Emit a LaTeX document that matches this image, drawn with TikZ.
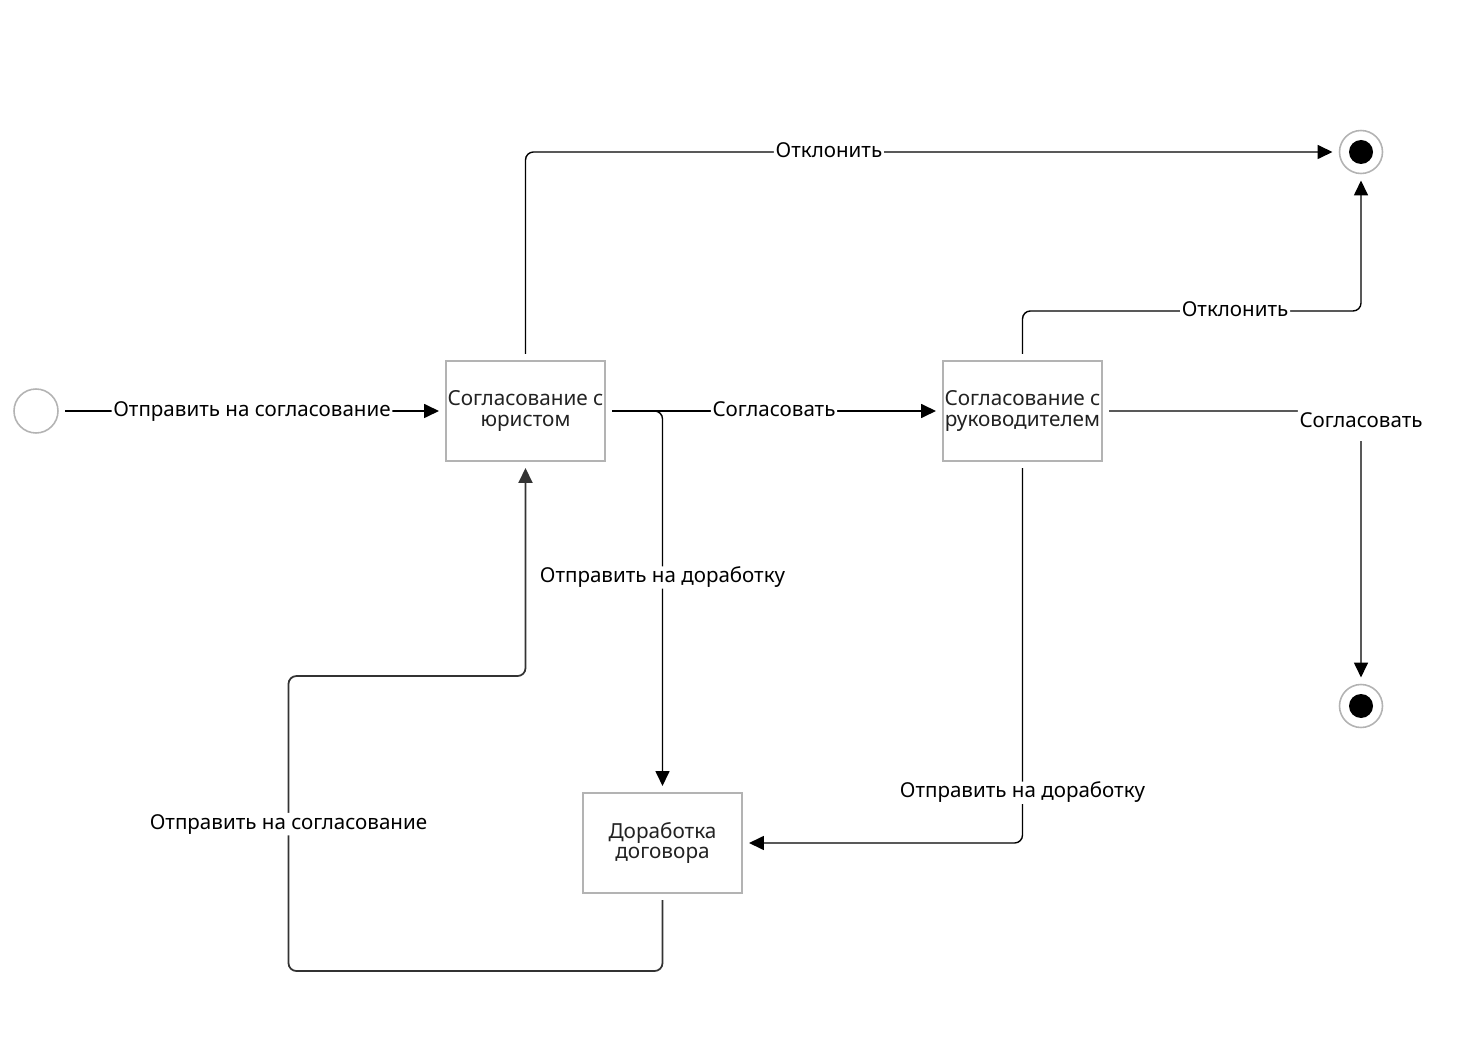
\documentclass[tikz,border=0pt]{standalone}
\usepackage{fontspec}
\setmainfont{Noto Sans}
\usetikzlibrary{arrows.meta}
\definecolor{boxgray}{HTML}{B3B3B3}
\definecolor{txtgray}{HTML}{222222}
\definecolor{loopgray}{HTML}{333333}
\tikzset{
    block/.style = {draw=boxgray, line width=0.9pt, rectangle, fill=white,
        minimum height=100*0.02cm,
        minimum width=159*0.02cm, inner sep=0pt, outer sep=4pt,
        align=center, text=txtgray, font=\fontsize{11.8}{11.6}\selectfont},
    initial/.style = {draw=boxgray, line width=0.9pt, circle, minimum size=44*0.02cm, inner sep=0pt, outer sep=4pt},
    final/.style = {draw=boxgray, line width=0.9pt, circle, minimum size=43*0.02cm, inner sep=0pt, outer sep=4pt,
        path picture={\fill[black] (path picture bounding box.center) circle (12*0.02cm);}},
    arrow/.style = {draw, line width=0.8pt, rounded corners=4.5pt, -{Triangle[length=8.5pt,width=8pt]}},
    lbl/.style = {fill=white, inner sep=1pt, text=black, text height=1.55ex, text depth=.45ex, font=\fontsize{11.7}{13}\selectfont}
}
\begin{document}
\begin{tikzpicture}[x=0.02cm, y=-0.02cm]
    \useasboundingbox (0,0) rectangle (1475,1047);
    \node[initial] (start) at (36,411) {};
    \node[block] (jurist) at (525.5,411) {Согласование с\\юристом};
    \node[block] (chief) at (1022.5,411) {Согласование с\\руководителем};
    \node[block] (rework) at (662.5,843) {Доработка\\договора};
    \node[final] (endreject) at (1361,152) {};
    \node[final] (endok) at (1361,706) {};
    \draw[arrow] (start) -- node[lbl,pos=.5] {Отправить на согласование} (jurist.west);
    \draw[arrow] (jurist.north) |- node[lbl,pos=.688] {Отклонить} (endreject.west);
    \draw[arrow] (jurist.east) -- node[lbl,pos=.5] {Согласовать} (chief.west);
    \draw[arrow] (jurist.east) -| node[lbl,pos=.722] {Отправить на доработку} (rework.north);
    \draw[arrow] (chief.north) -- ++(0,-43) -| node[lbl,pos=.314] {Отклонить} (endreject.south);
    \draw[arrow] (chief.east) -| node[lbl,pos=.5,yshift=-6.2pt,inner ysep=5.5pt] {Согласовать} (endok.north);
    \draw[arrow] (chief.south) |- node[lbl,pos=.433] {Отправить на доработку} (rework.east);
    \draw[arrow,draw=loopgray,line width=1pt] (rework.south) -- ++(0,71) -| node[lbl,pos=.749] {Отправить на согласование} ++(-374,-295) -| (jurist.south);
\end{tikzpicture}
\end{document}
